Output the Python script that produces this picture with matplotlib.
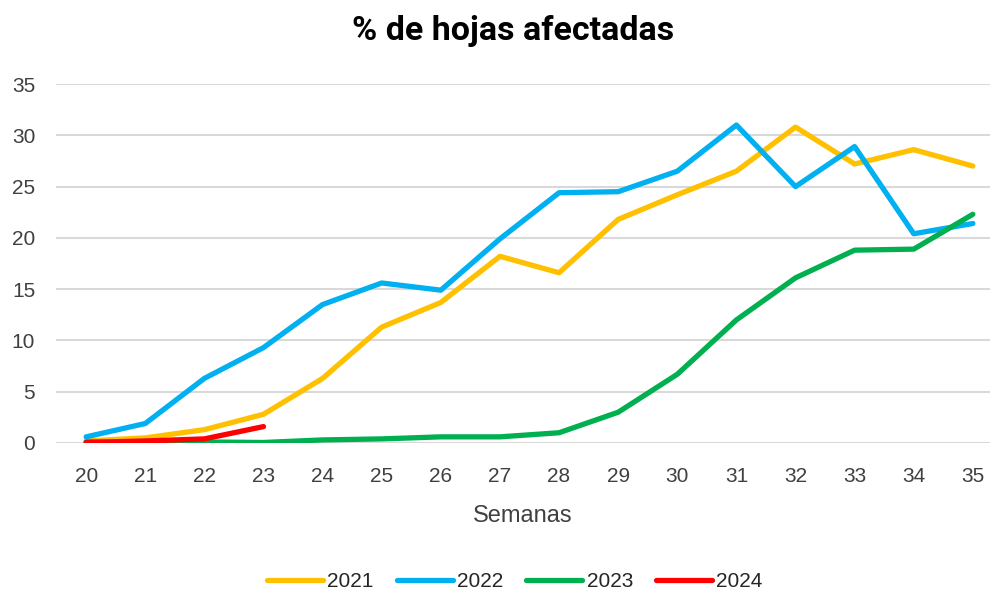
import matplotlib.pyplot as plt

semanas = list(range(20, 36))
s2021 = [0.2, 0.5, 1.3, 2.8, 6.3, 11.3, 13.7, 18.2, 16.6, 21.8, 24.2, 26.5, 30.8, 27.2, 28.6, 27.0]
s2022 = [0.6, 1.9, 6.3, 9.3, 13.5, 15.6, 14.9, 19.9, 24.4, 24.5, 26.5, 31.0, 25.0, 28.9, 20.4, 21.4]
s2023 = [0.1, 0.1, 0.1, 0.05, 0.3, 0.4, 0.6, 0.6, 1.0, 3.0, 6.7, 12.0, 16.1, 18.8, 18.9, 22.3]
sem2024 = [20, 21, 22, 23]
s2024 = [0.05, 0.2, 0.4, 1.6]

plt.rcParams['font.family'] = ['Liberation Sans', 'DejaVu Sans']

fig = plt.figure(figsize=(9.9, 5.92), dpi=100)
ax = fig.add_axes([56/990, 1-443/592, 934/990, (443-84)/592])

ax.plot(semanas, s2021, color='#FFC000', lw=3.8, label='2021', solid_capstyle='round')
ax.plot(semanas, s2022, color='#00B0F0', lw=3.8, label='2022', solid_capstyle='round')
ax.plot(semanas, s2023, color='#00B050', lw=3.8, label='2023', solid_capstyle='round')
ax.plot(sem2024, s2024, color='#FF0000', lw=3.8, label='2024', solid_capstyle='round')

ax.set_ylim(0, 35)
ax.set_xlim(19.49, 35.29)
ax.set_yticks(range(0, 36, 5))
ax.set_xticks(semanas)
ax.grid(axis='y', color='#D9D9D9', lw=1.5)
ax.set_axisbelow(True)
for s in ax.spines.values():
    s.set_visible(False)
ax.tick_params(length=0, labelsize=15, colors='#404040')
ax.tick_params(axis='y', pad=15)
ax.tick_params(axis='x', pad=17)
ax.set_xlabel('Semanas', fontsize=17, color='#404040', labelpad=14)

fig.suptitle('% de hojas afectadas', x=0.518, y=0.975, fontsize=24.5, fontweight='bold',
             family=['Roboto', 'DejaVu Sans'])

fig.legend(loc='lower center', bbox_to_anchor=(0.52, -0.03), ncol=4, frameon=False,
           fontsize=15, handlelength=2.7, handletextpad=0.2, columnspacing=1.1,
           labelcolor='#262626')

fig.savefig('out.png', dpi=100)
